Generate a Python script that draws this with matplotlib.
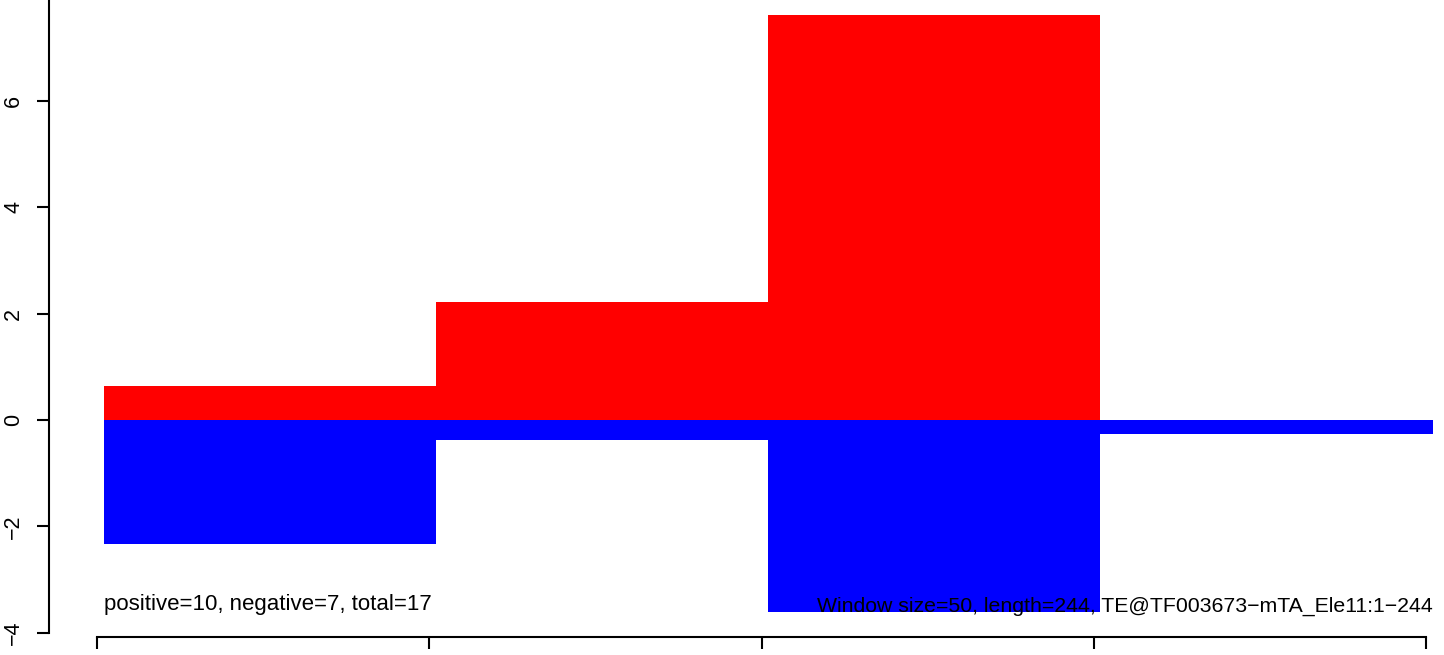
import matplotlib
matplotlib.use('Agg')
import matplotlib.pyplot as plt
import numpy as np

# sliding window scores (window size 50, 1-based starts)
win_starts = [1, 51, 101, 151]
win_size = 50
pos_scores = [0.64, 2.22, 7.61, 0.0]
neg_scores = [-2.33, -0.38, -3.61, -0.26]

yticks = [-4, -2, 0, 2, 4, 6]
xticks = [0, 50, 100, 150, 200]

left_note = 'positive=10, negative=7, total=17'
right_note = 'Window size=50, length=244, TE@TF003673\u2212mTA_Ele11:1\u2212244'

plt.rcParams['font.family'] = ['Liberation Sans', 'DejaVu Sans']

fig = plt.figure(figsize=(14.44, 6.55), dpi=100)
ax = fig.add_axes([0, 0, 1, 1])
ax.patch.set_alpha(0)

ax.bar(win_starts, pos_scores, width=win_size, align='edge', color='#ff0000', linewidth=0)
ax.bar(win_starts, neg_scores, width=win_size, align='edge', color='#0000ff', linewidth=0)

# limits chosen so the plot region lines up with the R output
ax.set_xlim(-14.6, 202.7)
ax.set_ylim(-4.417, 7.895)

ax.set_yticks(yticks)
ax.set_yticklabels([str(t).replace('-', '\u2212') for t in yticks])
ax.set_xticks(xticks)
ax.set_xticklabels([])

for s in ['top', 'right']:
    ax.spines[s].set_visible(False)
ax.spines['left'].set_position(('data', -7.3))
ax.spines['left'].set_bounds(-4, 8)
ax.spines['bottom'].set_position(('data', -4.07))
ax.spines['bottom'].set_bounds(0, 200)
for s in ['left', 'bottom']:
    ax.spines[s].set_linewidth(1.5)

ax.tick_params(axis='both', direction='out', length=8.6, width=1.5)
ax.tick_params(axis='y', pad=9, labelsize=15.5, labelrotation=90)
for lbl in ax.get_yticklabels():
    lbl.set_va('center')

ax.text(win_starts[0], -3.58, left_note, ha='left', va='baseline', fontsize=16.0)
ax.text(win_starts[-1] + win_size, -3.61, right_note, ha='right', va='baseline', fontsize=15.3)

fig.savefig('out.png', dpi=100)
